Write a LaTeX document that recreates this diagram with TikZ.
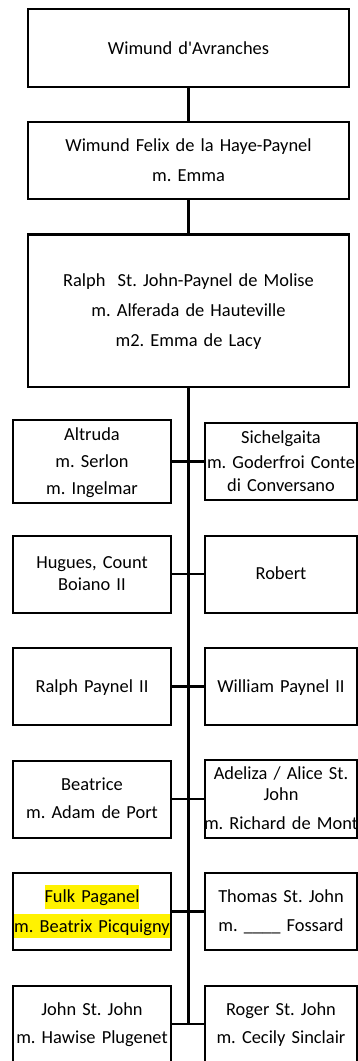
\documentclass[tikz,border=0pt]{standalone}
\usepackage{fontspec}
\setmainfont{Carlito}
\frenchspacing
% yellow text highlight, one line at a time
\newcommand\hilite[1]{{\setlength\fboxsep{0pt}\colorbox{yellow}{\rule[-6pt]{0pt}{24pt}#1}}}
\begin{document}
\begin{tikzpicture}[x=1pt,y=-1pt,
  every node/.style={inner sep=0pt,outer sep=0pt},
  bigbox/.style={draw,line width=2.6pt,align=center,text width=321pt,
    font=\fontsize{18.4}{30}\selectfont},
  kidbox/.style={draw,line width=2pt,align=center,minimum height=77pt,
    font=\fontsize{18.4}{28.5}\selectfont},
  leftkid/.style={kidbox,text width=158pt},
  rightkid/.style={kidbox,text width=152pt},
  link/.style={line width=2.6pt},
  spine/.style={line width=3.6pt}]
\useasboundingbox (0,0) rectangle (358,1061);

% ancestors
\node[bigbox,minimum height=78pt] (b1) at (188.5,48) {\strut Wimund d\textquotesingle Avranches};
\node[bigbox,minimum height=77pt] (b2) at (188.5,160.5)
  {\strut Wimund Felix de la Haye-Paynel\\\strut m. Emma};
\node[bigbox,minimum height=152.5pt] (b3) at (188.5,310.75)
  {\strut Ralph\ \ St. John-Paynel de Molise\\\strut m. Alferada de Hauteville\\\strut m2. Emma de Lacy};

% children, left column
\node[leftkid] (l1) at (92,461.5) {\strut Altruda\\[-1.5pt]\strut m. Serlon\\[-1.5pt]\strut m. Ingelmar};
\node[leftkid] (l2) at (92,574) {\strut Hugues, Count\\[-6.5pt]\strut Boiano II};
\node[leftkid] (l3) at (92,686.5) {\strut Ralph Paynel II};
\node[leftkid] (l4) at (92,799) {\strut Beatrice\\\strut m. Adam de Port};
\node[leftkid] (l5) at (92,911.5) {\hilite{Fulk Paganel}\\[1pt]\hilite{m. Beatrix Picquigny}};
\node[leftkid] (l6) at (92,1024) {\strut John St. John\\\strut m. Hawise Plugenet};

% children, right column
\node[rightkid] (r1) at (281,461.5) {\strut Sichelgaita\\[-3pt]\strut m. Goderfroi Conte\\[-6pt]\strut di Conversano};
\node[rightkid] (r2) at (281,574) {\strut Robert};
\node[rightkid] (r3) at (281,686.5) {\strut William Paynel II};
\node[rightkid] (r4) at (281,799) {\strut Adeliza / Alice St.\\[-7.5pt]\strut John\\\strut\makebox[0pt]{m. Richard de Mont}};
\node[rightkid] (r5) at (281,911.5) {\strut Thomas St. John\\[1pt]\strut m. \_\_\_\_ Fossard};
\node[rightkid] (r6) at (281,1024) {\strut Roger St. John\\\strut m. Cecily Sinclair};

% descent lines
\draw[link] (b1.south) -- (b2.north);
\draw[link] (b2.south) -- (b3.north);
\draw[spine] (b3.south) -- (b3.south |- l6.east);
\foreach \i in {1,...,6}
  \draw[link] (l\i.east) -- (r\i.west);
\end{tikzpicture}
\end{document}
